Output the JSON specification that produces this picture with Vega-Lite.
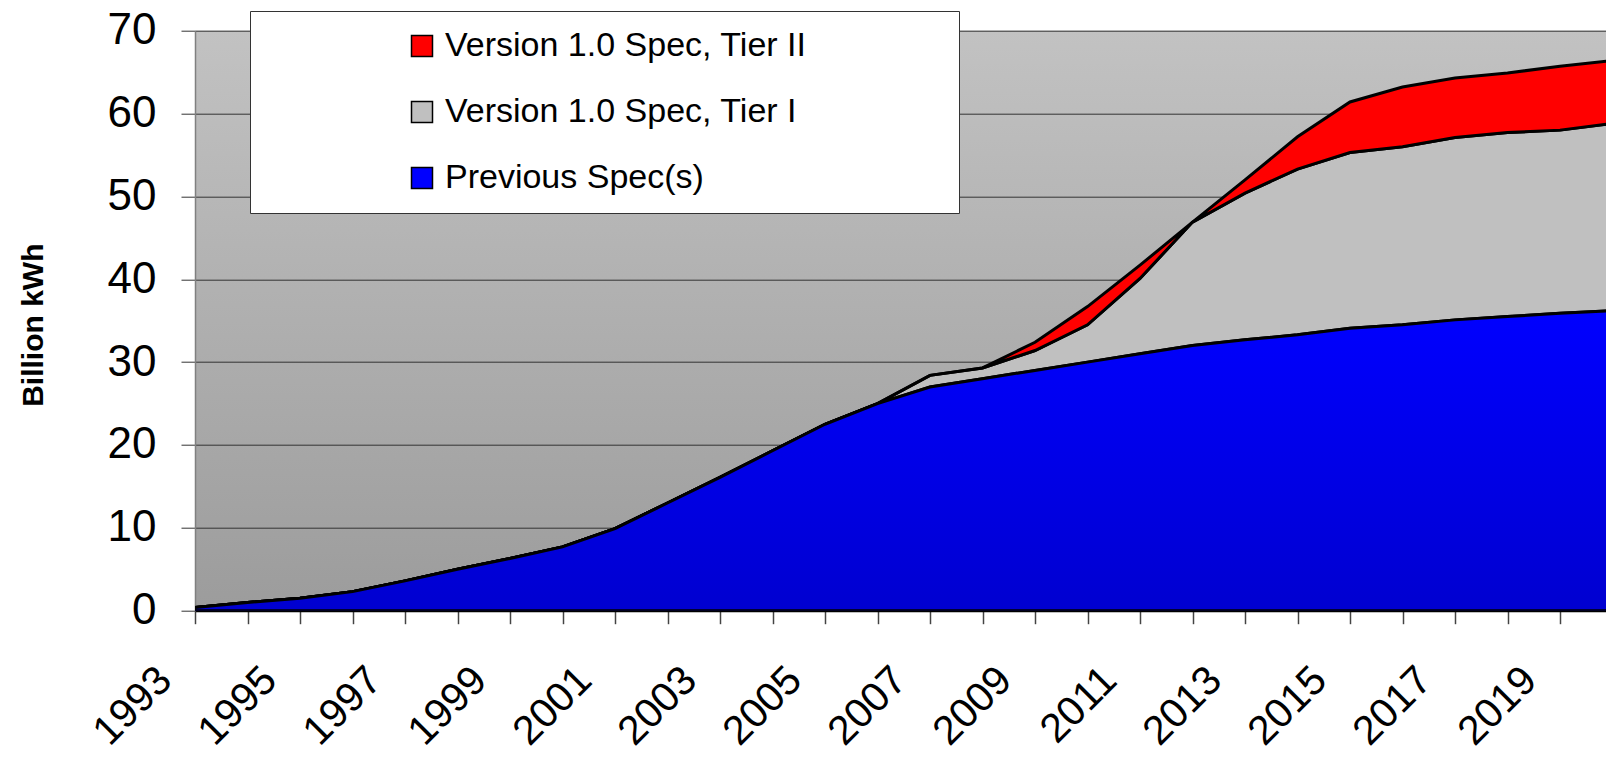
{
  "$schema": "https://vega.github.io/schema/vega-lite/v6.json",
  "width": 1411,
  "height": 580,
  "autosize": {"type": "none"},
  "padding": {"left": 195, "top": 30.7, "right": 0, "bottom": 146.3},
  "background": "white",
  "view": {
    "stroke": null,
    "fill": {"gradient": "linear", "x1": 0, "y1": 0, "x2": 0, "y2": 1,
      "stops": [{"offset": 0, "color": "#C2C2C2"}, {"offset": 1, "color": "#9C9C9C"}]}
  },
  "config": {
    "font": "Liberation Sans",
    "axisX": {
      "domainColor": "black", "domainWidth": 2, "tickColor": "#444444", "tickWidth": 1.5, "tickSize": 13,
      "grid": false, "labelFontSize": 41, "labelColor": "black", "labelAngle": -45,
      "labelAlign": "right", "labelBaseline": "middle", "labelOffset": -30, "labelPadding": 50
    },
    "axisY": {
      "domainColor": "#808080", "domainWidth": 1.5, "tickColor": "#333333", "tickWidth": 1, "tickSize": 14,
      "grid": true, "gridColor": "#333333", "gridWidth": 1, "labelFontSize": 44, "labelColor": "black",
      "labelPadding": 25, "titleFontSize": 30, "titleFontWeight": "bold", "titleColor": "black",
      "titleX": -153, "titleY": 294, "titleBaseline": "alphabetic", "titleAngle": -90
    }
  },
  "data": {"values": [
    {"year": 1993, "series": "Previous Spec(s)", "value": 0.4},
    {"year": 1994, "series": "Previous Spec(s)", "value": 1.0},
    {"year": 1995, "series": "Previous Spec(s)", "value": 1.5},
    {"year": 1996, "series": "Previous Spec(s)", "value": 2.3},
    {"year": 1997, "series": "Previous Spec(s)", "value": 3.6},
    {"year": 1998, "series": "Previous Spec(s)", "value": 5.0},
    {"year": 1999, "series": "Previous Spec(s)", "value": 6.3},
    {"year": 2000, "series": "Previous Spec(s)", "value": 7.7},
    {"year": 2001, "series": "Previous Spec(s)", "value": 9.9},
    {"year": 2002, "series": "Previous Spec(s)", "value": 13.0},
    {"year": 2003, "series": "Previous Spec(s)", "value": 16.1},
    {"year": 2004, "series": "Previous Spec(s)", "value": 19.3},
    {"year": 2005, "series": "Previous Spec(s)", "value": 22.5},
    {"year": 2006, "series": "Previous Spec(s)", "value": 25.0},
    {"year": 2007, "series": "Previous Spec(s)", "value": 27.0},
    {"year": 2008, "series": "Previous Spec(s)", "value": 28.0},
    {"year": 2009, "series": "Previous Spec(s)", "value": 29.0},
    {"year": 2010, "series": "Previous Spec(s)", "value": 30.0},
    {"year": 2011, "series": "Previous Spec(s)", "value": 31.0},
    {"year": 2012, "series": "Previous Spec(s)", "value": 32.0},
    {"year": 2013, "series": "Previous Spec(s)", "value": 32.7},
    {"year": 2014, "series": "Previous Spec(s)", "value": 33.3},
    {"year": 2015, "series": "Previous Spec(s)", "value": 34.1},
    {"year": 2016, "series": "Previous Spec(s)", "value": 34.5},
    {"year": 2017, "series": "Previous Spec(s)", "value": 35.1},
    {"year": 2018, "series": "Previous Spec(s)", "value": 35.5},
    {"year": 2019, "series": "Previous Spec(s)", "value": 35.9},
    {"year": 2020, "series": "Previous Spec(s)", "value": 36.2},
    {"year": 1993, "series": "Version 1.0 Spec, Tier I", "value": 0},
    {"year": 1994, "series": "Version 1.0 Spec, Tier I", "value": 0},
    {"year": 1995, "series": "Version 1.0 Spec, Tier I", "value": 0},
    {"year": 1996, "series": "Version 1.0 Spec, Tier I", "value": 0},
    {"year": 1997, "series": "Version 1.0 Spec, Tier I", "value": 0},
    {"year": 1998, "series": "Version 1.0 Spec, Tier I", "value": 0},
    {"year": 1999, "series": "Version 1.0 Spec, Tier I", "value": 0},
    {"year": 2000, "series": "Version 1.0 Spec, Tier I", "value": 0},
    {"year": 2001, "series": "Version 1.0 Spec, Tier I", "value": 0},
    {"year": 2002, "series": "Version 1.0 Spec, Tier I", "value": 0},
    {"year": 2003, "series": "Version 1.0 Spec, Tier I", "value": 0},
    {"year": 2004, "series": "Version 1.0 Spec, Tier I", "value": 0},
    {"year": 2005, "series": "Version 1.0 Spec, Tier I", "value": 0},
    {"year": 2006, "series": "Version 1.0 Spec, Tier I", "value": 0},
    {"year": 2007, "series": "Version 1.0 Spec, Tier I", "value": 1.4},
    {"year": 2008, "series": "Version 1.0 Spec, Tier I", "value": 1.3},
    {"year": 2009, "series": "Version 1.0 Spec, Tier I", "value": 2.4},
    {"year": 2010, "series": "Version 1.0 Spec, Tier I", "value": 4.5},
    {"year": 2011, "series": "Version 1.0 Spec, Tier I", "value": 9.1},
    {"year": 2012, "series": "Version 1.0 Spec, Tier I", "value": 14.9},
    {"year": 2013, "series": "Version 1.0 Spec, Tier I", "value": 17.7},
    {"year": 2014, "series": "Version 1.0 Spec, Tier I", "value": 20.0},
    {"year": 2015, "series": "Version 1.0 Spec, Tier I", "value": 21.2},
    {"year": 2016, "series": "Version 1.0 Spec, Tier I", "value": 21.5},
    {"year": 2017, "series": "Version 1.0 Spec, Tier I", "value": 22.0},
    {"year": 2018, "series": "Version 1.0 Spec, Tier I", "value": 22.2},
    {"year": 2019, "series": "Version 1.0 Spec, Tier I", "value": 22.1},
    {"year": 2020, "series": "Version 1.0 Spec, Tier I", "value": 22.6},
    {"year": 1993, "series": "Version 1.0 Spec, Tier II", "value": 0},
    {"year": 1994, "series": "Version 1.0 Spec, Tier II", "value": 0},
    {"year": 1995, "series": "Version 1.0 Spec, Tier II", "value": 0},
    {"year": 1996, "series": "Version 1.0 Spec, Tier II", "value": 0},
    {"year": 1997, "series": "Version 1.0 Spec, Tier II", "value": 0},
    {"year": 1998, "series": "Version 1.0 Spec, Tier II", "value": 0},
    {"year": 1999, "series": "Version 1.0 Spec, Tier II", "value": 0},
    {"year": 2000, "series": "Version 1.0 Spec, Tier II", "value": 0},
    {"year": 2001, "series": "Version 1.0 Spec, Tier II", "value": 0},
    {"year": 2002, "series": "Version 1.0 Spec, Tier II", "value": 0},
    {"year": 2003, "series": "Version 1.0 Spec, Tier II", "value": 0},
    {"year": 2004, "series": "Version 1.0 Spec, Tier II", "value": 0},
    {"year": 2005, "series": "Version 1.0 Spec, Tier II", "value": 0},
    {"year": 2006, "series": "Version 1.0 Spec, Tier II", "value": 0},
    {"year": 2007, "series": "Version 1.0 Spec, Tier II", "value": 0},
    {"year": 2008, "series": "Version 1.0 Spec, Tier II", "value": 0},
    {"year": 2009, "series": "Version 1.0 Spec, Tier II", "value": 1.0},
    {"year": 2010, "series": "Version 1.0 Spec, Tier II", "value": 2.2},
    {"year": 2011, "series": "Version 1.0 Spec, Tier II", "value": 1.6},
    {"year": 2012, "series": "Version 1.0 Spec, Tier II", "value": 0},
    {"year": 2013, "series": "Version 1.0 Spec, Tier II", "value": 1.6},
    {"year": 2014, "series": "Version 1.0 Spec, Tier II", "value": 3.9},
    {"year": 2015, "series": "Version 1.0 Spec, Tier II", "value": 6.1},
    {"year": 2016, "series": "Version 1.0 Spec, Tier II", "value": 7.2},
    {"year": 2017, "series": "Version 1.0 Spec, Tier II", "value": 7.2},
    {"year": 2018, "series": "Version 1.0 Spec, Tier II", "value": 7.2},
    {"year": 2019, "series": "Version 1.0 Spec, Tier II", "value": 7.7},
    {"year": 2020, "series": "Version 1.0 Spec, Tier II", "value": 7.6}
  ]},
  "layer": [
    {
      "mark": {"type": "area", "clip": true, "stroke": "black", "strokeWidth": 3, "opacity": 1},
      "encoding": {
        "x": {"field": "year", "type": "quantitative", "title": null,
          "scale": {"domain": [1993, 2019.876], "nice": false, "zero": false},
          "axis": {"values": [1993,1994,1995,1996,1997,1998,1999,2000,2001,2002,2003,2004,2005,2006,2007,2008,2009,2010,2011,2012,2013,2014,2015,2016,2017,2018,2019],
            "labelExpr": "datum.value % 2 == 1 ? datum.value : ''"}},
        "y": {"field": "value", "type": "quantitative", "stack": "zero", "title": "Billion kWh",
          "scale": {"domain": [0, 70], "nice": false},
          "axis": {"values": [0, 10, 20, 30, 40, 50, 60, 70]}},
        "color": {"field": "series", "type": "nominal",
          "scale": {"domain": ["Version 1.0 Spec, Tier II", "Version 1.0 Spec, Tier I", "Previous Spec(s)"],
            "range": ["#FF0000", "#C0C0C0", "#0000FF"]},
          "legend": {
            "orient": "none", "legendX": 55, "legendY": -19.7,
            "title": "x", "titleOrient": "right", "titleFontSize": 1, "titleColor": "white", "titlePadding": 133,
            "fillColor": "white", "strokeColor": "#333333", "padding": 18,
            "symbolType": "square", "symbolSize": 441, "symbolStrokeColor": "black", "symbolStrokeWidth": 1.5,
            "symbolOpacity": 1, "symbolOffset": 137,
            "labelFontSize": 34, "labelColor": "black", "labelOffset": 6, "rowPadding": 32, "labelLimit": 600
          }},
        "order": {"field": "series", "sort": "ascending"}
      }
    },
    {
      "transform": [{"filter": "datum.series == 'Previous Spec(s)'"}],
      "mark": {"type": "area", "clip": true, "stroke": "black", "strokeWidth": 3,
        "fill": {"gradient": "linear", "x1": 0, "y1": 0, "x2": 0, "y2": 1,
          "stops": [{"offset": 0, "color": "#0000FF"}, {"offset": 1, "color": "#0000D0"}]}},
      "encoding": {
        "x": {"field": "year", "type": "quantitative", "title": null},
        "y": {"field": "value", "type": "quantitative", "title": "Billion kWh"}
      }
    }
  ]
}
